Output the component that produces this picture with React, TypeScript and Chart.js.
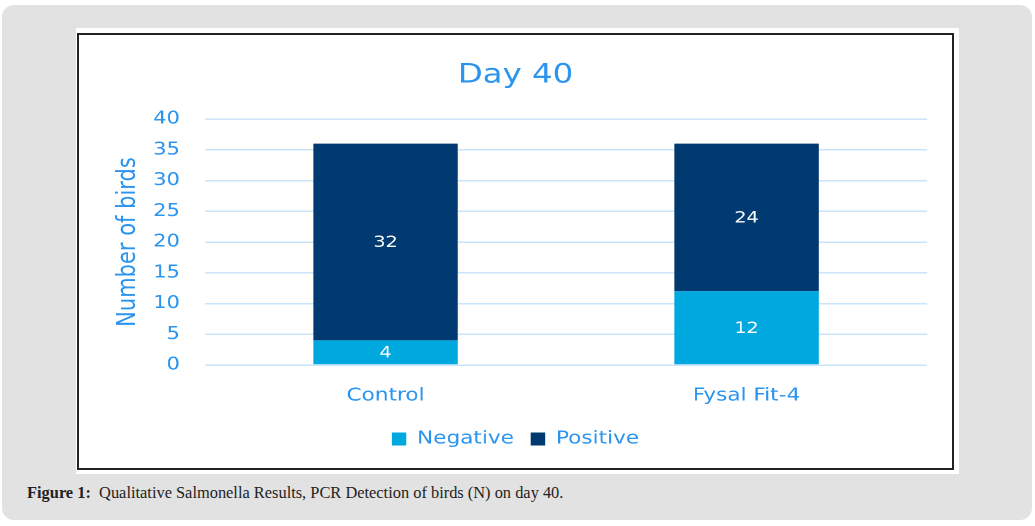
import { useEffect, useRef } from "react";
import { Chart, registerables } from "chart.js";

Chart.register(...registerables);

// ---- data ----
const categories = ["Control", "Fysal Fit-4"];
const seriesNames = ["Negative", "Positive"];
const negativeValues = [4, 12];
const positiveValues = [32, 24];
const yMin = 0;
const yMax = 40;
const yStep = 5;
const chartTitle = "Day 40";
const yAxisTitle = "Number of birds";
const captionBold = "Figure 1:";
const captionText = "  Qualitative Salmonella Results, PCR Detection of birds (N) on day 40.";

// ---- style ----
const BLUE = "#2a94ee";
const NEG_COLOR = "#00a8e0";
const POS_COLOR = "#003a70";
const FONT = '"DejaVu Sans", "Noto Sans", sans-serif';
const CANVAS_W = 728;
const CANVAS_H = 433;
const STRETCH = 873 / 728;

const valueLabels = {
  id: "valueLabels",
  afterDatasetsDraw(chart: any) {
    const ctx = chart.ctx;
    ctx.save();
    ctx.font = `16px ${FONT}`;
    ctx.fillStyle = "#ffffff";
    ctx.textAlign = "center";
    ctx.textBaseline = "middle";
    chart.data.datasets.forEach((ds: any, i: number) => {
      const meta = chart.getDatasetMeta(i);
      meta.data.forEach((el: any, j: number) => {
        const v = ds.data[j];
        const { x, y, base } = el.getProps(["x", "y", "base"], true);
        ctx.fillText(String(v), x, (y + base) / 2 + 1);
      });
    });
    ctx.restore();
  },
};

function BirdsChart() {
  const ref = useRef<HTMLCanvasElement | null>(null);
  useEffect(() => {
    if (!ref.current) return;
    const chart = new Chart(ref.current, {
      type: "bar",
      data: {
        labels: categories,
        datasets: [
          {
            label: seriesNames[0],
            data: negativeValues,
            backgroundColor: NEG_COLOR,
            barPercentage: 0.5,
            categoryPercentage: 0.8,
          },
          {
            label: seriesNames[1],
            data: positiveValues,
            backgroundColor: POS_COLOR,
            barPercentage: 0.5,
            categoryPercentage: 0.8,
          },
        ],
      },
      options: {
        animation: false,
        responsive: true,
        maintainAspectRatio: false,
        devicePixelRatio: 2,
        layout: { padding: { left: 20.8, right: 20.8, top: 0, bottom: 10 } },
        plugins: {
          title: {
            display: true,
            text: chartTitle,
            color: BLUE,
            font: { family: FONT, size: 27, weight: "normal" },
            padding: { top: 24.4, bottom: 27.2 },
          },
          legend: {
            position: "bottom",
            labels: {
              boxWidth: 12,
              boxHeight: 13,
              padding: 14,
              color: BLUE,
              font: { family: FONT, size: 18 },
            },
          },
          tooltip: { enabled: false },
        },
        scales: {
          x: {
            stacked: true,
            grid: { display: false, drawTicks: false },
            border: { display: false },
            ticks: { color: BLUE, font: { family: FONT, size: 18 }, padding: 20 },
            afterFit: (s: any) => {
              s.height = 51;
            },
          },
          y: {
            stacked: true,
            min: yMin,
            max: yMax,
            ticks: { stepSize: yStep, color: BLUE, font: { family: FONT, size: 17.5 }, padding: 21 },
            grid: { color: "#c9e4fb", lineWidth: 1.5, drawTicks: false },
            border: { display: false },
            title: {
              display: true,
              text: yAxisTitle,
              color: BLUE,
              font: { family: FONT, size: 21 },
              padding: { top: 7.5, bottom: 0 },
            },
            afterFit: (s: any) => {
              s.width = 84.3;
            },
          },
        },
      } as any,
      plugins: [valueLabels],
    });
    return () => chart.destroy();
  }, []);
  return (
    <div
      style={{
        position: "absolute",
        left: 0,
        top: 0,
        width: CANVAS_W,
        height: CANVAS_H,
        transform: `scaleX(${STRETCH})`,
        transformOrigin: "0 0",
      }}
    >
      <canvas ref={ref} />
    </div>
  );
}

export default function App() {
  return (
    <div style={{ position: "fixed", left: 0, top: 0, width: 1035, height: 526, background: "#ffffff", overflow: "hidden" }}>
      <div
        style={{
          position: "absolute",
          left: 2,
          top: 5,
          width: 1030,
          height: 515,
          background: "#e2e2e2",
          borderRadius: 12,
        }}
      />
      <div style={{ position: "absolute", left: 76, top: 28, width: 883, height: 446, background: "#ffffff" }} />
      <div
        style={{
          position: "absolute",
          left: 77,
          top: 33,
          width: 877,
          height: 437,
          border: "2px solid #222222",
          boxSizing: "border-box",
          background: "#ffffff",
        }}
      >
        <BirdsChart />
      </div>
      <div
        style={{
          position: "absolute",
          left: 27,
          top: 484,
          fontFamily: '"Liberation Serif", serif',
          fontSize: 16.4,
          lineHeight: "18px",
          color: "#222222",
          whiteSpace: "pre",
        }}
      >
        <b>{captionBold}</b>
        {captionText}
      </div>
    </div>
  );
}
